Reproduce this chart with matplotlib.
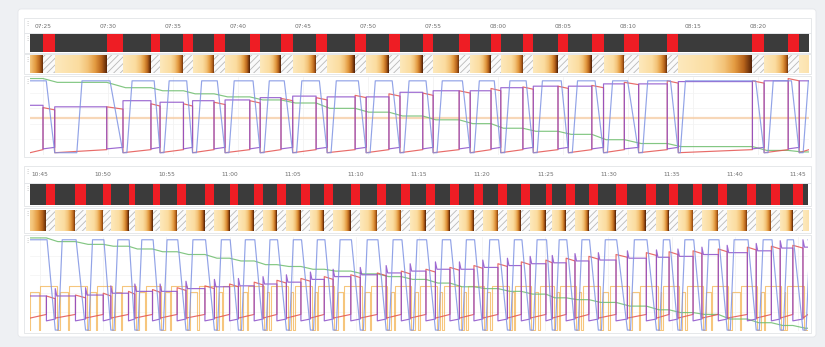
import numpy as np
import matplotlib
matplotlib.use('Agg')
import matplotlib.pyplot as plt
from matplotlib.colors import LinearSegmentedColormap
from matplotlib.patches import Rectangle, FancyBboxPatch

W, H = 825, 347

# ---------------- top block: minutes after 07:00 ----------------
top_xlim = (24.0, 83.9)
top_ticks = [25, 30, 35, 40, 45, 50, 55, 60, 65, 70, 75, 80]
top_tick_labels = ['07:25', '07:30', '07:35', '07:40', '07:45', '07:50',
                   '07:55', '08:00', '08:05', '08:10', '08:15', '08:20']
top_red_start = [25.0, 29.9, 33.3, 35.8, 38.15, 40.9, 43.3, 46.0, 49.0, 51.6,
                 54.2, 57.0, 59.45, 61.9, 64.6, 67.2, 69.7, 73.0, 79.55, 82.3]
top_red_end = [25.9, 31.15, 34.0, 36.5, 39.0, 41.7, 44.2, 46.85, 49.85, 52.45,
               55.0, 57.85, 60.2, 62.7, 65.4, 68.1, 70.8, 73.85, 80.45, 83.15]
top_blue_up = [27.6, 31.45, 34.3, 36.8, 39.3, 42.0, 44.5, 47.15, 50.15, 52.75,
               55.3, 58.15, 60.5, 63.0, 65.7, 68.4, 71.1, 74.0, 80.75, 83.45]
top_green = [0.99, 0.94, 0.87, 0.83, 0.79, 0.75, 0.71, 0.67, 0.60, 0.55, 0.50,
             0.45, 0.40, 0.34, 0.30, 0.26, 0.19, 0.14, 0.10, 0.05, 0.03]
top_purple_hi = [0.64, 0.62, 0.70, 0.68, 0.70, 0.71, 0.74, 0.76, 0.75, 0.75, 0.81,
                 0.83, 0.83, 0.87, 0.89, 0.89, 0.92, 0.92, 0.95, 0.96, 0.96]
top_red_hi = [0.61, 0.62, 0.66, 0.66, 0.68, 0.70, 0.73, 0.74, 0.77, 0.79,
              0.80, 0.83, 0.86, 0.88, 0.89, 0.90, 0.94, 0.96, 0.96, 0.99]
top_setpoint = 0.47

# ---------------- bottom block: minutes after 10:00 ----------------
bot_xlim = (44.2, 105.8)
bot_ticks = [45, 50, 55, 60, 65, 70, 75, 80, 85, 90, 95, 100, 105]
bot_tick_labels = ['10:45', '10:50', '10:55', '11:00', '11:05', '11:10', '11:15',
                   '11:20', '11:25', '11:30', '11:35', '11:40', '11:45']
bot_red_start = [45.5, 47.8, 50.0, 52.0, 53.9, 55.85, 58.05, 60.0, 61.95, 63.75,
                 65.65, 67.5, 69.6, 71.7, 73.6, 75.55, 77.45, 79.35, 81.25, 83.1,
                 85.05, 86.65, 88.45, 90.6, 93.0, 94.8, 96.7, 98.7, 101.0, 102.9, 104.6]
bot_red_end = [46.2, 48.6, 50.6, 52.5, 54.5, 56.55, 58.8, 60.7, 62.65, 64.5,
               66.4, 68.2, 70.35, 72.4, 74.3, 76.3, 78.2, 80.05, 82.0, 83.8,
               85.55, 87.35, 89.2, 91.5, 93.8, 95.5, 97.4, 99.4, 101.7, 103.6, 105.4]
bot_green = [1.00, 0.96, 0.93, 0.91, 0.88, 0.85, 0.82, 0.78, 0.75, 0.71, 0.69,
             0.66, 0.64, 0.61, 0.58, 0.55, 0.51, 0.47, 0.45, 0.42, 0.39,
             0.35, 0.33, 0.30, 0.26, 0.22, 0.19, 0.17, 0.12, 0.08, 0.05, 0.02]
bot_purple_hi = [0.37, 0.37, 0.38, 0.40, 0.42, 0.42, 0.45, 0.47, 0.48, 0.50, 0.52,
                 0.55, 0.58, 0.60, 0.62, 0.64, 0.66, 0.66, 0.68, 0.70, 0.72,
                 0.73, 0.75, 0.76, 0.78, 0.79, 0.80, 0.82, 0.84, 0.86, 0.89, 0.90]
bot_red_hi = [0.37, 0.38, 0.40, 0.42, 0.44, 0.46, 0.48, 0.50, 0.52, 0.54, 0.56,
              0.58, 0.60, 0.62, 0.64, 0.66, 0.68, 0.70, 0.72, 0.74, 0.76,
              0.78, 0.80, 0.82, 0.84, 0.85, 0.86, 0.88, 0.90, 0.91, 0.92]
bot_orange_hi = [0.48, 0.48, 0.48, 0.48, 0.48, 0.48, 0.48, 0.48, 0.48, 0.48, 0.48,
                 0.48, 0.48, 0.48, 0.48, 0.48, 0.48, 0.48, 0.48, 0.48, 0.48,
                 0.48, 0.48, 0.48, 0.48, 0.48, 0.48, 0.48, 0.48, 0.48, 0.48]
bot_orange_pre = 0.41

heat_cmap = LinearSegmentedColormap.from_list('heat', [
    (0.0, '#fde9bd'), (0.45, '#fbdc9f'), (0.62, '#f3c378'),
    (0.76, '#e39a40'), (0.88, '#b8641b'), (1.0, '#4a1c06')])


def px_axes(fig, x0, y0, x1, y1):
    return fig.add_axes([x0 / W, 1 - y1 / H, (x1 - x0) / W, (y1 - y0) / H])


def frame(bg, x0, y0, x1, y1):
    bg.add_patch(Rectangle((x0, y0), x1 - x0, y1 - y0, fc='white', ec='#e2e4e7', lw=0.6))
    bg.text(x0 + 3, y0 + 5, '\u22ee', fontsize=4.5, color='#9a9a9a', ha='center', va='center')


def green_series(xlim, rs, re, levels):
    xs, ys = [xlim[0]], [levels[0]]
    for i, (s, e) in enumerate(zip(rs, re)):
        xs += [s, e + 0.2]
        ys += [levels[i], levels[i + 1]]
    xs.append(xlim[1])
    ys.append(levels[-1])
    return xs, ys


def purple_series(xlim, rs, re, hi, lo, spike):
    xs, ys = [xlim[0]], [hi[0]]
    for i, (s, e) in enumerate(zip(rs, re)):
        xs += [s, s, e, e, e + 0.12]
        ys += [hi[i], lo, lo + 0.02, hi[i + 1] + spike, hi[i + 1]]
    xs.append(xlim[1])
    ys.append(hi[-1])
    return xs, ys


def red_series(xlim, rs, re, hi, lo_a, lo_b):
    xs, ys = [xlim[0]], [lo_a]
    for s, e, h in zip(rs, re, hi):
        xs += [s, s, e, e]
        ys += [lo_b, h, h - 0.03, lo_a]
    xs.append(xlim[1])
    ys.append(lo_b)
    return xs, ys


def blue_series(xlim, rs, re, up, hi, lo, ramp, lag):
    xs, ys = [xlim[0]], [hi]
    for s, e, u in zip(rs, re, up):
        xs += [s + lag, e, u, u + ramp]
        ys += [hi, lo, lo, hi]
    xs.append(xlim[1])
    ys.append(hi)
    return xs, ys


def orange_series(xlim, rs, re, hi, pre):
    xs, ys = [xlim[0]], [0.0]
    prev_e = xlim[0] - 1.0
    for s, e, lv in zip(rs, re, hi):
        a = max(prev_e + 0.35, xlim[0])
        if s - 0.6 > a:
            xs += [a, a, s - 0.6, s - 0.6]
            ys += [0.0, pre, pre, 0.0]
        xs += [s - 0.5, s - 0.5, e + 0.1, e + 0.1]
        ys += [0.0, lv, lv, 0.0]
        prev_e = e
    xs.append(xlim[1])
    ys.append(0.0)
    return xs, ys


def bare(ax, xlim):
    ax.set_xlim(*xlim)
    ax.set_ylim(0, 1)
    ax.set_xticks([])
    ax.set_yticks([])
    for sp in ax.spines.values():
        sp.set_visible(False)


def draw_block(fig, bg, rows, xlim, ticks, labels, rs, re, first_frac):
    x0, x1 = 30, rows['x1']
    for key in ('time', 'bar', 'heat', 'lines'):
        fy0, fy1 = rows[key + '_frame']
        frame(bg, 24, fy0, 811, fy1)

    # time labels
    ax_t = px_axes(fig, x0, rows['time'][0], x1, rows['time'][1])
    ax_t.set_xlim(*xlim)
    ax_t.set_ylim(0, 1)
    ax_t.axis('off')
    for t, lab in zip(ticks, labels):
        ax_t.text(t, 0.5, lab, fontsize=4.2, color='#6e6e6e', ha='center', va='center')

    # red / dark state bar
    ax_b = px_axes(fig, x0, rows['bar'][0], x1, rows['bar'][1])
    ax_b.set_facecolor('#3b3b3b')
    for s, e in zip(rs, re):
        ax_b.axvspan(s, e, color='#ee1d24', lw=0)
    bare(ax_b, xlim)

    # heat bar: gradient while dark, hatched while red
    ax_h = px_axes(fig, x0, rows['heat'][0], x1, rows['heat'][1])
    for s, e in zip(rs, re):
        ax_h.add_patch(Rectangle((s, 0), e - s, 1, fc='#fafafa', ec='#b9b9b9', lw=0, hatch='/////'))
    starts = [xlim[0]] + list(re)
    ends = list(rs) + [xlim[1]]
    for i, (a, b) in enumerate(zip(starts, ends)):
        if i == 0:
            fa, fb = first_frac, 1.0
        elif i == len(starts) - 1:
            fa, fb = 0.0, 0.25
        else:
            fa, fb = 0.0, 1.0
        grad = np.linspace(fa, fb, 200)[None, :]
        ax_h.imshow(grad, extent=[a, b, 0, 1], aspect='auto', cmap=heat_cmap,
                    vmin=0, vmax=1, interpolation='bilinear')
    bare(ax_h, xlim)

    ax_l = px_axes(fig, x0, rows['lines'][0], x1, rows['lines'][1])
    bare(ax_l, xlim)
    ax_l.set_ylim(-0.01, 1.01)
    for t in ticks:
        ax_l.axvline(t, color='#f0f0f0', lw=0.5, zorder=0)
    for yv in (0.2, 0.4, 0.6, 0.8):
        ax_l.axhline(yv, color='#f3f3f3', lw=0.5, zorder=0)
    return ax_l


def main() -> None:
    plt.rcParams['hatch.linewidth'] = 0.6
    fig = plt.figure(figsize=(W / 100, H / 100), dpi=100)
    fig.patch.set_facecolor('#eef0f3')

    bg = fig.add_axes([0, 0, 1, 1])
    bg.set_xlim(0, W)
    bg.set_ylim(H, 0)
    bg.axis('off')
    bg.add_patch(FancyBboxPatch((18, 9), 798, 328, boxstyle='round,pad=0,rounding_size=3',
                                fc='white', ec='#e4e6ea', lw=0.6))

    top_rows = {'x1': 809,
                'time': (19, 33), 'time_frame': (18, 33),
                'bar': (34, 52), 'bar_frame': (33, 53),
                'heat': (55, 73), 'heat_frame': (54, 74),
                'lines': (77, 155), 'lines_frame': (76, 157)}
    bot_rows = {'x1': 808,
                'time': (167, 183), 'time_frame': (166, 183),
                'bar': (184, 205), 'bar_frame': (183, 206),
                'heat': (210, 231), 'heat_frame': (208, 233),
                'lines': (237, 331), 'lines_frame': (235, 333)}
    lw, al = 0.85, 0.85

    # top block
    ax = draw_block(fig, bg, top_rows, top_xlim, top_ticks, top_tick_labels,
                    top_red_start, top_red_end, 0.6)
    ax.axhline(top_setpoint, color='#f6cda6', lw=1.6, alpha=0.8, zorder=1)
    xs, ys = green_series(top_xlim, top_red_start, top_red_end, top_green)
    ax.plot(xs, ys, color='#6dbd6d', lw=lw, alpha=al, zorder=2)
    xs, ys = red_series(top_xlim, top_red_start, top_red_end, top_red_hi, 0.02, 0.06)
    ax.plot(xs, ys, color='#e4524f', lw=lw, alpha=al, zorder=3)
    xs, ys = purple_series(top_xlim, top_red_start, top_red_end, top_purple_hi, 0.07, 0.0)
    ax.plot(xs, ys, color='#8c4fc9', lw=lw, alpha=al, zorder=4)
    xs, ys = blue_series(top_xlim, top_red_start, top_red_end, top_blue_up, 0.96, 0.02, 0.4, 0.25)
    ax.plot(xs, ys, color='#7f93e3', lw=lw, alpha=al, zorder=5)

    # bottom block
    ax = draw_block(fig, bg, bot_rows, bot_xlim, bot_ticks, bot_tick_labels,
                    bot_red_start, bot_red_end, 0.55)
    xs, ys = orange_series(bot_xlim, bot_red_start, bot_red_end, bot_orange_hi, bot_orange_pre)
    ax.plot(xs, ys, color='#f4b452', lw=0.8, alpha=0.75, zorder=1)
    xs, ys = green_series(bot_xlim, bot_red_start, bot_red_end, bot_green)
    ax.plot(xs, ys, color='#6dbd6d', lw=lw, alpha=al, zorder=2)
    xs, ys = red_series(bot_xlim, bot_red_start, bot_red_end, bot_red_hi, 0.13, 0.17)
    ax.plot(xs, ys, color='#e4524f', lw=lw, alpha=al, zorder=3)
    xs, ys = purple_series(bot_xlim, bot_red_start, bot_red_end, bot_purple_hi, 0.10, 0.08)
    ax.plot(xs, ys, color='#8c4fc9', lw=lw, alpha=al, zorder=4)
    bot_blue_up = [e + 0.25 for e in bot_red_end]
    xs, ys = blue_series(bot_xlim, bot_red_start, bot_red_end, bot_blue_up, 0.98, 0.0, 0.3, 0.05)
    ax.plot(xs, ys, color='#7f93e3', lw=lw, alpha=al, zorder=5)

    fig.savefig('out.png', dpi=100, facecolor=fig.get_facecolor())


if __name__ == '__main__':
    main()
